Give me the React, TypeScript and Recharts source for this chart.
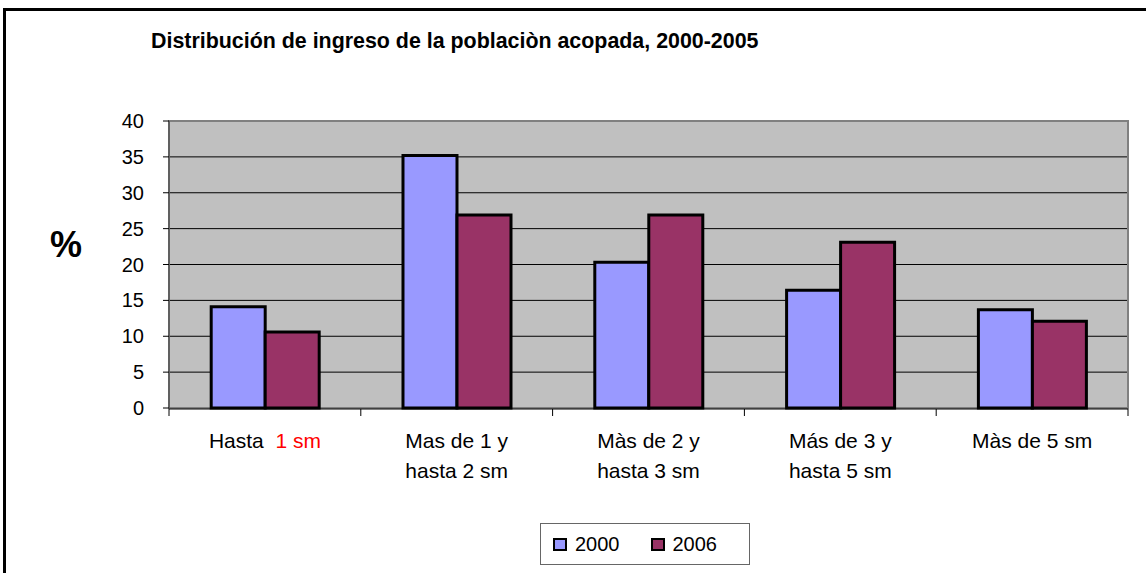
import React from "react";
import {
  BarChart, Bar, XAxis, YAxis, CartesianGrid, Legend, ReferenceArea
} from "recharts";

const categories = [
  ["Hasta", "1 sm"],
  ["Mas de 1 y", "hasta 2 sm"],
  ["Màs de 2 y", "hasta 3 sm"],
  ["Más de 3 y", "hasta 5 sm"],
  ["Màs de 5 sm", ""],
];
const values2000 = [14.1, 35.2, 20.3, 16.4, 13.7];
const values2006 = [10.6, 26.9, 26.9, 23.1, 12.1];
const yTicks = [0, 5, 10, 15, 20, 25, 30, 35, 40];
const boundaryTicks = [0, 1, 2, 3, 4, 5];

const data = categories.map((c, i) => ({
  name: String(i),
  pos: i + 0.5,
  v2000: values2000[i],
  v2006: values2006[i],
}));

const font = "Arial, 'Liberation Sans', Helvetica, sans-serif";

function CatTick({ x, y, payload }: any) {
  const [l1, l2] = categories[Number(payload.value)];
  const first = Number(payload.value) === 0;
  return (
    <text x={x} y={y + 32} textAnchor="middle" fontSize={21} fontFamily={font} fill="#000">
      {first ? (
        <tspan x={x}>
          {l1}
          <tspan fill="#ff0000">{"\u00a0 " + l2}</tspan>
        </tspan>
      ) : (
        <>
          <tspan x={x}>{l1}</tspan>
          {l2 && <tspan x={x} dy={30}>{l2}</tspan>}
        </>
      )}
    </text>
  );
}

function EmptyTick() {
  return <g />;
}

function LegendBox({ payload }: any) {
  return (
    <div style={{
      display: "flex", alignItems: "center", gap: 31, paddingLeft: 12,
      border: "1px solid #666", background: "#fff", width: 210, height: 42,
      boxSizing: "border-box", fontFamily: font, fontSize: 20,
    }}>
      {(payload || []).map((p: any) => (
        <span key={p.value} style={{ display: "flex", alignItems: "center", gap: 8 }}>
          <span style={{
            width: 14, height: 13, boxSizing: "border-box", background: p.color,
            border: "2px solid #000", display: "inline-block",
          }} />
          {p.value}
        </span>
      ))}
    </div>
  );
}

export default function App() {
  return (
    <div style={{ position: "absolute", left: 0, top: 0, width: 1146, height: 573, background: "#fff", overflow: "hidden" }}>
      <div style={{
        position: "absolute", left: 3, top: 8, width: 1160, height: 600,
        borderLeft: "3px solid #000", borderTop: "3px solid #000",
      }} />
      <div style={{
        position: "absolute", left: 151, top: 29, fontFamily: font, fontWeight: "bold",
        fontSize: 21.4, whiteSpace: "nowrap",
      }}>
        Distribución de ingreso de la poblaciòn acopada, 2000-2005
      </div>
      <div style={{
        position: "absolute", left: 50, top: 227, fontFamily: font, fontWeight: "bold",
        fontSize: 36, lineHeight: 1,
      }}>
        %
      </div>
      <div style={{ position: "absolute", left: 0, top: 0 }}>
        <BarChart
          width={1146}
          height={573}
          data={data}
          margin={{ top: 121, right: 18, bottom: 163, left: 0 }}
          barCategoryGap="22%"
          barGap={0}
        >
          <CartesianGrid vertical={false} horizontal stroke="#000" strokeWidth={1} fill="#c0c0c0" fillOpacity={1} />
          <ReferenceArea y1={0} y2={40} fill="none" stroke="#808080" strokeWidth={2} ifOverflow="visible" />
          <XAxis
            xAxisId="edges"
            type="number"
            dataKey="pos"
            domain={[0, 5]}
            ticks={boundaryTicks}
            interval={0}
            tick={<EmptyTick />}
            height={1}
            axisLine={{ stroke: "#000" }}
            tickLine={{ stroke: "#000", strokeWidth: 1 }}
            tickSize={7}
          />
          <XAxis
            dataKey="name"
            tick={<CatTick />}
            axisLine={false}
            tickLine={false}
            interval={0}
            height={1}
          />
          <YAxis
            width={169}
            domain={[0, 40]}
            ticks={yTicks}
            interval={0}
            axisLine={{ stroke: "#404040" }}
            tickLine={{ stroke: "#000" }}
            tickSize={6}
            tick={{ fill: "#000", fontSize: 20, fontFamily: font, dx: -17 }}
          />
          <Legend
            layout="horizontal"
            verticalAlign="middle"
            align="center"
            content={<LegendBox />}
            wrapperStyle={{ position: "absolute", left: 540, top: 523, width: 210, height: 42 }}
          />
          <Bar dataKey="v2000" name="2000" fill="#9999ff" stroke="#000" strokeWidth={3} isAnimationActive={false} />
          <Bar dataKey="v2006" name="2006" fill="#993366" stroke="#000" strokeWidth={3} isAnimationActive={false} />
        </BarChart>
      </div>
    </div>
  );
}
